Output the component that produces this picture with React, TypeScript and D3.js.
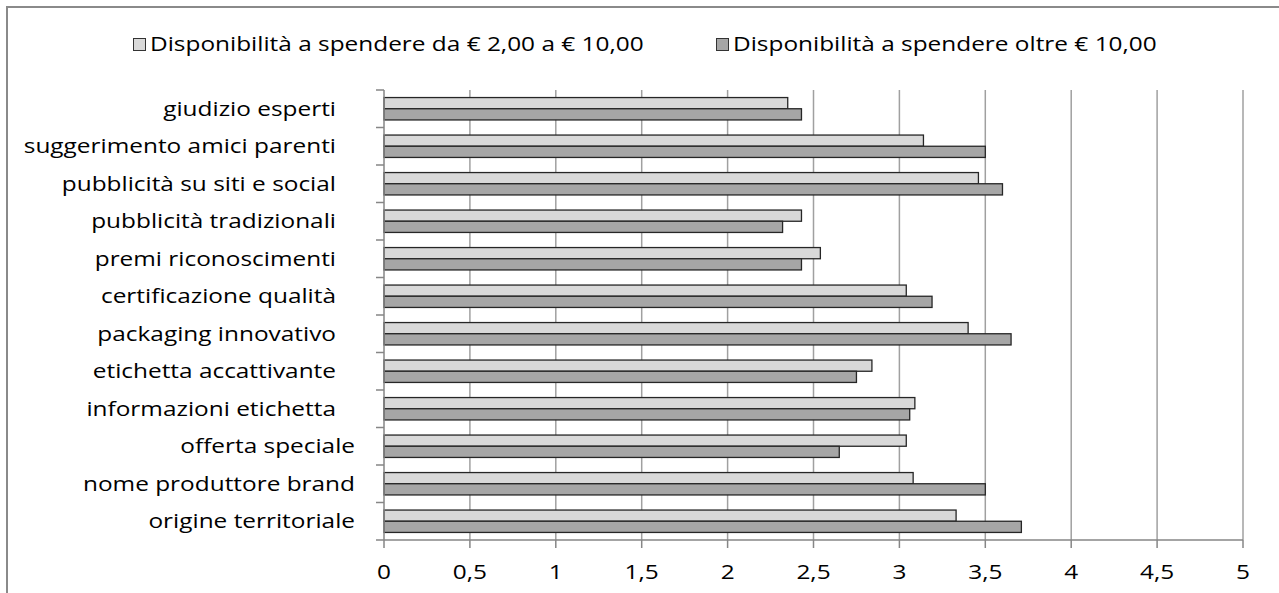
import React from "react";
import * as d3 from "d3";

// Categories, listed from top to bottom of the chart
const categories: string[] = [
  "giudizio esperti   ",
  "suggerimento amici parenti   ",
  "pubblicità su siti e social   ",
  "pubblicità tradizionali   ",
  "premi riconoscimenti   ",
  "certificazione qualità   ",
  "packaging innovativo   ",
  "etichetta accattivante   ",
  "informazioni etichetta   ",
  "offerta speciale",
  "nome produttore brand",
  "origine territoriale",
];

// Mean scores for spending between € 2,00 and € 10,00
const seriesLow: number[] = [2.35, 3.14, 3.46, 2.43, 2.54, 3.04, 3.4, 2.84, 3.09, 3.04, 3.08, 3.33];
// Mean scores for spending over € 10,00
const seriesHigh: number[] = [2.43, 3.5, 3.6, 2.32, 2.43, 3.19, 3.65, 2.75, 3.06, 2.65, 3.5, 3.71];

const seriesNames: string[] = [
  "Disponibilità a spendere da € 2,00 a € 10,00",
  "Disponibilità a spendere oltre € 10,00",
];
const seriesColors: string[] = ["#d9d9d9", "#a6a6a6"];

const xTicks: number[] = [0, 0.5, 1, 1.5, 2, 2.5, 3, 3.5, 4, 4.5, 5];
const xTickLabels: string[] = ["0", "0,5", "1", "1,5", "2", "2,5", "3", "3,5", "4", "4,5", "5"];

const W = 1279;
const H = 593;
const plot = { left: 384, right: 1243, top: 90, bottom: 540 };
const FONT = "'Open Sans', sans-serif";
const FS = 20;
const SX = 1.22; // horizontal stretch of the text glyphs

export default function App() {
  const x = d3.scaleLinear().domain([0, 5]).range([plot.left, plot.right]);
  const y = d3.scaleBand<string>().domain(categories).range([plot.top, plot.bottom]);
  const barH = 11.2;
  const bw = y.bandwidth();

  const series = [seriesLow, seriesHigh];

  return (
    <svg
      width={W}
      height={H}
      style={{ position: "absolute", left: 0, top: 0, background: "#fff" }}
      fontFamily={FONT}
    >
      {/* chart area outline */}
      <rect x={7} y={7} width={W + 40} height={H + 40} fill="#fff" stroke="#8a8a8a" strokeWidth={2} />

      {/* legend */}
      {seriesNames.map((name, i) => {
        const lx = [133, 716][i];
        return (
          <g key={name}>
            <rect x={lx + 0.5} y={38.5} width={12} height={12} fill={seriesColors[i]} stroke="#333" strokeWidth={1} />
            <g transform={`translate(${lx + 17},51) scale(${SX},1)`}>
              <text fontSize={FS} fill="#000">{name}</text>
            </g>
          </g>
        );
      })}

      {/* vertical gridlines */}
      {xTicks.slice(1).map((t) => (
        <line key={t} x1={x(t)} x2={x(t)} y1={plot.top} y2={plot.bottom} stroke="#a0a0a0" strokeWidth={1.5} />
      ))}

      {/* bars */}
      {categories.map((c, ci) => {
        const yc = (y(c) as number) + bw / 2;
        return series.map((s, si) => (
          <rect
            key={`${ci}-${si}`}
            x={x(0)}
            y={yc - barH + si * barH}
            width={x(s[ci]) - x(0)}
            height={barH}
            fill={seriesColors[si]}
            stroke="#262626"
            strokeWidth={1.3}
          />
        ));
      })}

      {/* category axis */}
      <line x1={plot.left} x2={plot.left} y1={plot.top} y2={plot.bottom} stroke="#868686" strokeWidth={1.5} />
      {d3.range(categories.length + 1).map((i) => {
        const yy = plot.top + i * bw;
        return <line key={i} x1={plot.left - 8} x2={plot.left} y1={yy} y2={yy} stroke="#868686" strokeWidth={1.5} />;
      })}
      {categories.map((c) => (
        <g key={c} transform={`translate(${355},${(y(c) as number) + bw / 2 + 7}) scale(${SX},1)`}>
          <text fontSize={FS} textAnchor="end" fill="#000" style={{ whiteSpace: "pre" }}>
            {c}
          </text>
        </g>
      ))}

      {/* value axis */}
      <line x1={plot.left} x2={plot.right} y1={plot.bottom} y2={plot.bottom} stroke="#868686" strokeWidth={1.5} />
      {xTicks.map((t, i) => (
        <g key={t}>
          <line x1={x(t)} x2={x(t)} y1={plot.bottom} y2={plot.bottom + 8} stroke="#868686" strokeWidth={1.5} />
          <g transform={`translate(${x(t)},${579}) scale(${SX},1)`}>
            <text fontSize={FS} textAnchor="middle" fill="#000">
              {xTickLabels[i]}
            </text>
          </g>
        </g>
      ))}
    </svg>
  );
}
